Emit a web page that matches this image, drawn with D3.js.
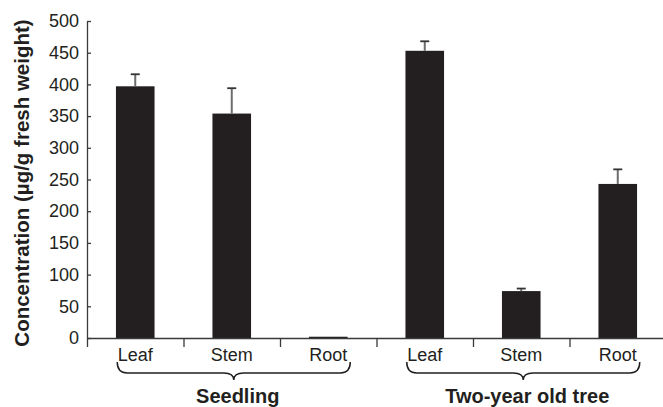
<!DOCTYPE html>
<html>
<head>
<meta charset="utf-8">
<script src="https://cdn.jsdelivr.net/npm/d3@7"></script>
<style>
  body { margin: 0; background: #fff; }
  text { font-family: "Liberation Sans", Arial, sans-serif; fill: #231f20; }
</style>
</head>
<body>
<div id="chart"></div>
<script>
var groups = ["Seedling", "Two-year old tree"];
var parts = ["Leaf", "Stem", "Root"];
var seedlingMean = [397, 354, 2];
var seedlingErr = [19, 40, 0];
var treeMean = [453, 74, 243];
var treeErr = [15, 4, 23];
var yTicks = [0, 50, 100, 150, 200, 250, 300, 350, 400, 450, 500];

var svgWidth = 663;
var svgHeight = 407;

var margin = { top: 21, left: 87 };
var plotRight = 666;
var plotBottom = 338;

var data = [];
[seedlingMean, treeMean].forEach(function(means, g) {
  var errs = g === 0 ? seedlingErr : treeErr;
  parts.forEach(function(p, i) {
    data.push({ key: groups[g] + "-" + p, group: g, part: p, mean: means[i], err: errs[i] });
  });
});

var svg = d3.select("#chart")
  .append("svg")
  .attr("width", svgWidth)
  .attr("height", svgHeight);

var xBand = d3.scaleBand()
  .domain(data.map(d => d.key))
  .range([margin.left, plotRight])
  .padding(0);

var xEdge = d3.scaleLinear()
  .domain([0, data.length])
  .range([margin.left, plotRight]);

var yLinearScale = d3.scaleLinear()
  .domain([0, 500])
  .range([plotBottom, margin.top]);

var barW = xBand.bandwidth() * 0.4;
var center = d => xBand(d.key) + xBand.bandwidth() / 2;

// bars
svg.selectAll("rect.bar")
  .data(data)
  .enter()
  .append("rect")
  .attr("class", "bar")
  .attr("x", d => center(d) - barW / 2)
  .attr("y", d => yLinearScale(d.mean))
  .attr("width", barW)
  .attr("height", d => plotBottom - yLinearScale(d.mean))
  .attr("fill", "#231f20");

// error bars
var errData = data.filter(d => d.err > 0);
svg.selectAll("line.err")
  .data(errData)
  .enter()
  .append("line")
  .attr("class", "err")
  .attr("x1", center)
  .attr("x2", center)
  .attr("y1", d => yLinearScale(d.mean))
  .attr("y2", d => yLinearScale(d.mean + d.err))
  .attr("stroke", "#6d6d6d")
  .attr("stroke-width", 2);

svg.selectAll("line.cap")
  .data(errData)
  .enter()
  .append("line")
  .attr("class", "cap")
  .attr("x1", d => center(d) - 4.5)
  .attr("x2", d => center(d) + 4.5)
  .attr("y1", d => yLinearScale(d.mean + d.err))
  .attr("y2", d => yLinearScale(d.mean + d.err))
  .attr("stroke", "#333")
  .attr("stroke-width", 1.8);

// y axis
var leftAxis = d3.axisLeft(yLinearScale)
  .tickValues(yTicks)
  .tickSizeInner(-4)
  .tickSizeOuter(0)
  .tickPadding(8);

var yAxis = svg.append("g")
  .attr("transform", `translate(${margin.left}, 0)`)
  .call(leftAxis);

yAxis.selectAll("text")
  .style("font-size", "18px")
  .attr("fill", "#231f20");
yAxis.selectAll("line, path").attr("stroke", "#3a3a3a").attr("stroke-width", 1.3);

// x axis with ticks at category boundaries
var bottomAxis = d3.axisBottom(xEdge)
  .tickValues(d3.range(0, data.length + 1))
  .tickFormat("")
  .tickSizeInner(9)
  .tickSizeOuter(0);

var xAxis = svg.append("g")
  .attr("transform", `translate(0, ${plotBottom})`)
  .call(bottomAxis);
xAxis.selectAll("line, path").attr("stroke", "#3a3a3a").attr("stroke-width", 1.3);

// category labels
svg.selectAll("text.cat")
  .data(data)
  .enter()
  .append("text")
  .attr("class", "cat")
  .attr("x", center)
  .attr("y", 361)
  .attr("text-anchor", "middle")
  .style("font-size", "18px")
  .text(d => d.part);

// braces + group labels
function bracePath(x0, x1) {
  var mid = (x0 + x1) / 2;
  var yTop = 362, yLine = 373, yTip = 380, r = 10;
  return `M${x0},${yTop} Q${x0},${yLine} ${x0 + r},${yLine} L${mid - r},${yLine} Q${mid},${yLine} ${mid},${yTip}` +
    ` Q${mid},${yLine} ${mid + r},${yLine} L${x1 - r},${yLine} Q${x1},${yLine} ${x1},${yTop}`;
}

groups.forEach(function(g, gi) {
  var items = data.filter(d => d.group === gi);
  var x0 = center(items[0]) - 18;
  var x1 = center(items[items.length - 1]) + 22;
  svg.append("path")
    .attr("d", bracePath(x0, x1))
    .attr("fill", "none")
    .attr("stroke", "#231f20")
    .attr("stroke-width", 1.5);
  svg.append("text")
    .attr("x", (x0 + x1) / 2 + 4)
    .attr("y", 403)
    .attr("text-anchor", "middle")
    .style("font-size", "20px")
    .style("font-weight", "bold")
    .text(g);
});

// y axis label
svg.append("text")
  .attr("transform", "rotate(-90)")
  .attr("x", -183)
  .attr("y", 29)
  .attr("text-anchor", "middle")
  .style("font-size", "20.5px")
  .style("font-weight", "bold")
  .text("Concentration (µg/g fresh weight)");
</script>
</body>
</html>
